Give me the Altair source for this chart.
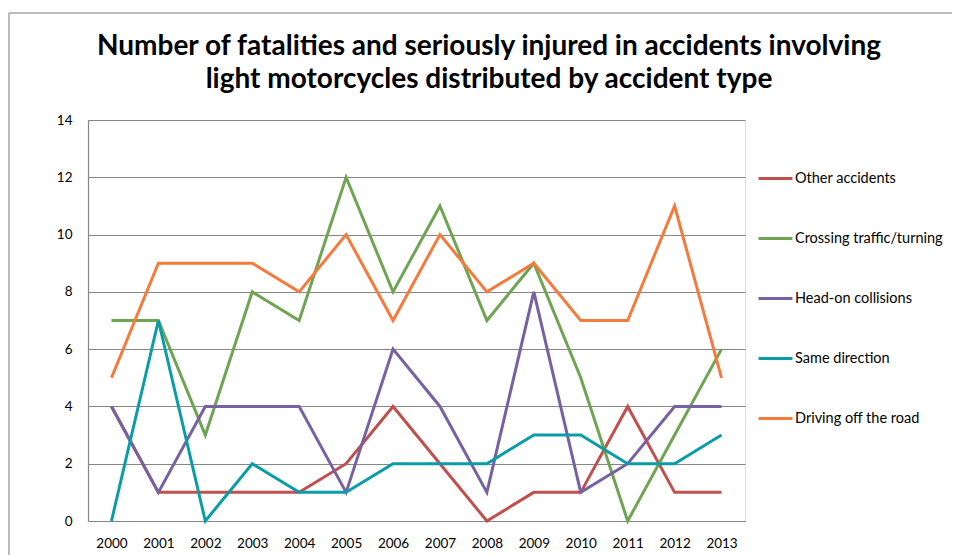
import altair as alt
import pandas as pd

years = [str(y) for y in range(2000, 2014)]
series = ["Other accidents", "Crossing traffic/turning", "Head-on collisions",
          "Same direction", "Driving off the road"]
other = [4, 1, 1, 1, 1, 2, 4, 2, 0, 1, 1, 4, 1, 1]
crossing = [7, 7, 3, 8, 7, 12, 8, 11, 7, 9, 5, 0, 3, 6]
headon = [4, 1, 4, 4, 4, 1, 6, 4, 1, 8, 1, 2, 4, 4]
same = [0, 7, 0, 2, 1, 1, 2, 2, 2, 3, 3, 2, 2, 3]
offroad = [5, 9, 9, 9, 8, 10, 7, 10, 8, 9, 7, 7, 11, 5]
colors = ["#C0504D", "#6FA452", "#7661A3", "#0A9DA8", "#F57B3D"]
y_ticks = [0, 2, 4, 6, 8, 10, 12, 14]
title_lines = ["Number of fatalities and seriously injured in accidents involving",
               "light motorcycles distributed by accident type"]

rows = []
for name, vals in zip(series, [other, crossing, headon, same, offroad]):
    for yr, v in zip(years, vals):
        rows.append({"Year": yr, "Series": name, "Value": v})
df = pd.DataFrame(rows)

FONT = "Lato"

lines = alt.Chart(df).mark_line(strokeWidth=3, strokeJoin="miter").encode(
    x=alt.X("Year:O", sort=years,
            scale=alt.Scale(type="point", padding=0.5),
            axis=alt.Axis(title=None, labelAngle=0, ticks=False, grid=False,
                          domainColor="#868686", domainWidth=1.2,
                          labelPadding=15, labelFontSize=13.5, labelColor="#000000",
                          labelFont=FONT)),
    y=alt.Y("Value:Q", scale=alt.Scale(domain=[0, 14], nice=False),
            axis=alt.Axis(title=None, values=y_ticks, ticks=False,
                          gridColor="#868686", gridWidth=1.2,
                          domainColor="#868686", domainWidth=1.2,
                          labelPadding=16, labelFontSize=13.5, labelColor="#000000",
                          labelFont=FONT)),
    color=alt.Color("Series:N", sort=series,
                    scale=alt.Scale(domain=series, range=colors),
                    legend=alt.Legend(title=None, orient="none",
                                      legendX=669, legendY=40,
                                      symbolType="stroke", symbolSize=1150,
                                      symbolStrokeWidth=3, labelOffset=1,
                                      labelFontSize=14.5, labelFont=FONT,
                                      labelColor="#000000", rowPadding=35,
                                      labelLimit=300)),
    order=alt.Order("Year:O"),
)

title1 = alt.Chart().mark_text(
    text=title_lines[0], font=FONT, fontSize=28, fontWeight="bold",
    color="#000000", align="center", baseline="middle").encode(
    x=alt.value(401), y=alt.value(-73))
title2 = alt.Chart().mark_text(
    text=title_lines[1], font=FONT, fontSize=28, fontWeight="bold",
    color="#000000", align="center", baseline="middle").encode(
    x=alt.value(401), y=alt.value(-40))

border_left = alt.Chart().mark_rule(color="#a6a6a6", strokeWidth=1.5).encode(
    x=alt.value(-79), y=alt.value(-107), y2=alt.value(500))
border_top = alt.Chart().mark_rule(color="#a6a6a6", strokeWidth=1.5).encode(
    x=alt.value(-79), x2=alt.value(900), y=alt.value(-107))

chart = alt.layer(lines, title1, title2, border_left, border_top).properties(
    width=657, height=401,
    autosize=alt.AutoSizeParams(type="none"),
    padding={"left": 80, "top": 112, "right": 207, "bottom": 34},
).configure_view(stroke=None).configure(background="white")

chart.save("out.html", embed_options={"renderer": "svg", "actions": False})
